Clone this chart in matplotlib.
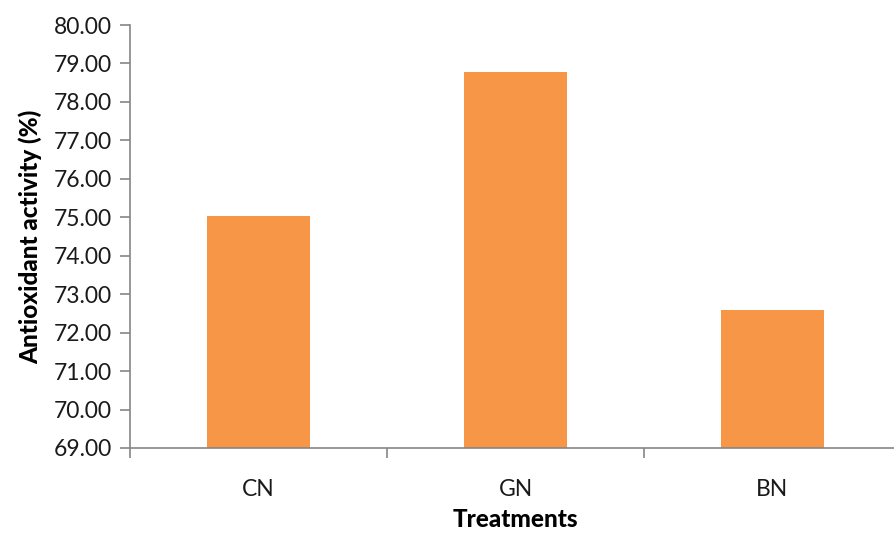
import matplotlib
matplotlib.use("Agg")
import matplotlib.pyplot as plt
import numpy as np

treatments = ["CN", "GN", "BN"]
activity = [75.04, 78.79, 72.59]
y_ticks = np.arange(69, 80.5, 1.0)

plt.rcParams['font.family'] = ['Lato', 'DejaVu Sans']

fig = plt.figure(figsize=(8.94, 5.33), dpi=100)
ax = fig.add_axes([130 / 894, 1 - 448 / 533, 771 / 894, 423 / 533])

x = np.arange(len(treatments))
ax.bar(x, activity, width=0.4, color="#F79646", bottom=0, zorder=2)

ax.set_ylim(69, 80)
ax.set_xlim(-0.5, 2.5)
ax.set_yticks(y_ticks)
ax.set_yticklabels([f"{v:.2f}" for v in y_ticks], fontsize=16.5, color="#1a1a1a")

# category labels on major ticks, tick marks on category boundaries
ax.set_xticks(x)
ax.set_xticklabels(treatments, fontsize=16.5, color="#1a1a1a")
ax.tick_params(axis="x", which="major", length=0, pad=22)
ax.set_xticks(np.arange(-0.5, 3, 1.0), minor=True)
ax.tick_params(axis="x", which="minor", length=7, width=1.2, color="#868686")
ax.tick_params(axis="y", length=7, width=1.2, color="#868686", pad=6)

for side in ["top", "right"]:
    ax.spines[side].set_visible(False)
for side in ["left", "bottom"]:
    ax.spines[side].set_color("#868686")
    ax.spines[side].set_linewidth(1.2)

ax.set_ylabel("Antioxidant activity (%)", fontsize=17.5, fontweight="black", labelpad=8)
ax.set_xlabel("Treatments", fontsize=17.5, fontweight="black", labelpad=6)

fig.savefig("out.png", dpi=100)
